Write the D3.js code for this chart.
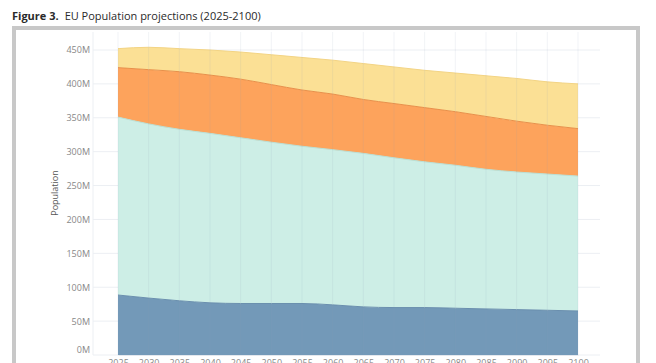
<!DOCTYPE html>
<html>
<head>
<meta charset="utf-8">
<script src="https://cdn.jsdelivr.net/npm/d3@7"></script>
<style>
  body { margin: 0; background: #fff; }
  svg { display: block; font-family: "Open Sans", "Noto Sans", sans-serif; }
</style>
</head>
<body>
<svg id="chart" width="656" height="363"></svg>
<script>
"use strict";

var years = [2025, 2030, 2035, 2040, 2045, 2050, 2055, 2060, 2065, 2070, 2075, 2080, 2085, 2090, 2095, 2100];
var groups = ["0-19", "20-64", "65-79", "80+"];
// millions
var age0_19  = [88.5, 84, 80, 77, 76, 76, 76, 74, 71, 70, 70, 69, 68, 67, 66, 65];
var age20_64 = [262.5, 257, 253, 250, 244.5, 238, 232, 229, 226.5, 221, 215, 211, 206, 203, 201, 199];
var age65_79 = [73, 80, 85, 86, 86.5, 85, 83, 82, 79.5, 80, 80, 79, 78, 75, 72, 70];
var age80    = [28, 33, 34, 37, 40, 44, 48, 50, 53, 54, 55, 57, 60, 63, 64, 66];
var yTicks = [0, 50, 100, 150, 200, 250, 300, 350, 400, 450];

var colors = ["#7399b8", "#cdeee6", "#fda35c", "#fbe095"];
var edges  = ["#6a8fae", "#b9e0d6", "#e8904a", "#f3d484"];

var table = years.map(function (y, i) {
    return { year: y, "0-19": age0_19[i], "20-64": age20_64[i], "65-79": age65_79[i], "80+": age80[i] };
});

var svg = d3.select("#chart");

// title
var title = svg.append("text").attr("x", 12).attr("y", 20)
    .attr("font-size", 11).attr("fill", "#2a2a2a");
title.append("tspan").attr("font-weight", "bold").text("Figure 3.");
title.append("tspan").attr("dx", 6).text("EU Population projections (2025-2100)");

// frame
svg.append("rect")
    .attr("x", 14).attr("y", 28).attr("width", 624).attr("height", 400)
    .attr("fill", "#fff").attr("stroke", "#c8c8c8").attr("stroke-width", 4);

var gridLeft = 93, gridRight = 600, gridTop = 32;

var x = d3.scaleLinear().domain([2025, 2100]).range([118, 578]);
var y = d3.scaleLinear().domain([0, 450]).range([355, 50]);

// horizontal grid
svg.append("g").selectAll("line")
    .data(yTicks)
    .enter().append("line")
    .attr("x1", gridLeft).attr("x2", gridRight)
    .attr("y1", function (d) { return y(d); })
    .attr("y2", function (d) { return y(d); })
    .attr("stroke", "#eceff3").attr("stroke-width", 1);

svg.append("line")
    .attr("x1", gridLeft).attr("x2", gridLeft)
    .attr("y1", gridTop).attr("y2", y(0))
    .attr("stroke", "#eceff3");

var stack = d3.stack().keys(groups);
var series = stack(table);

var area = d3.area()
    .x(function (d) { return x(d.data.year); })
    .y0(function (d) { return y(d[0]); })
    .y1(function (d) { return y(d[1]); })
    .curve(d3.curveMonotoneX);

var line = d3.line()
    .x(function (d) { return x(d.data.year); })
    .y(function (d) { return y(d[1]); })
    .curve(d3.curveMonotoneX);

svg.append("g").selectAll("path")
    .data(series)
    .enter().append("path")
    .attr("d", area)
    .attr("fill", function (d, i) { return colors[i]; });

svg.append("g").selectAll("path")
    .data(series)
    .enter().append("path")
    .attr("d", line)
    .attr("fill", "none")
    .attr("stroke", function (d, i) { return edges[i]; })
    .attr("stroke-width", 1);

// vertical grid on top, faint
svg.append("g").selectAll("line")
    .data(years)
    .enter().append("line")
    .attr("x1", function (d) { return x(d); })
    .attr("x2", function (d) { return x(d); })
    .attr("y1", gridTop).attr("y2", y(0))
    .attr("stroke", "#8aa0b8").attr("stroke-opacity", 0.12);

// y axis
var yAxis = svg.append("g")
    .attr("transform", "translate(90,0)")
    .call(d3.axisLeft(y).tickValues(yTicks).tickSize(0).tickPadding(0)
        .tickFormat(function (d) { return d + "M"; }));
yAxis.select(".domain").remove();
yAxis.selectAll("text").attr("font-size", 9).attr("fill", "#888")
    .attr("font-family", "'Open Sans', sans-serif");
// bottom label sits a bit above its line
yAxis.selectAll(".tick").filter(function (d) { return d === 0; })
    .select("text").attr("y", -5);

// x axis
var xAxis = svg.append("g")
    .attr("transform", "translate(0," + y(0) + ")")
    .call(d3.axisBottom(x).tickValues(years).tickSize(0).tickPadding(5)
        .tickFormat(d3.format("d")));
xAxis.select(".domain").attr("stroke", "#e4e8ee");
xAxis.selectAll("text").attr("font-size", 9).attr("fill", "#888")
    .attr("font-family", "'Open Sans', sans-serif");

svg.append("text")
    .attr("transform", "translate(58,193) rotate(-90)")
    .attr("text-anchor", "middle")
    .attr("font-size", 9).attr("fill", "#555")
    .text("Population");
</script>
</body>
</html>
